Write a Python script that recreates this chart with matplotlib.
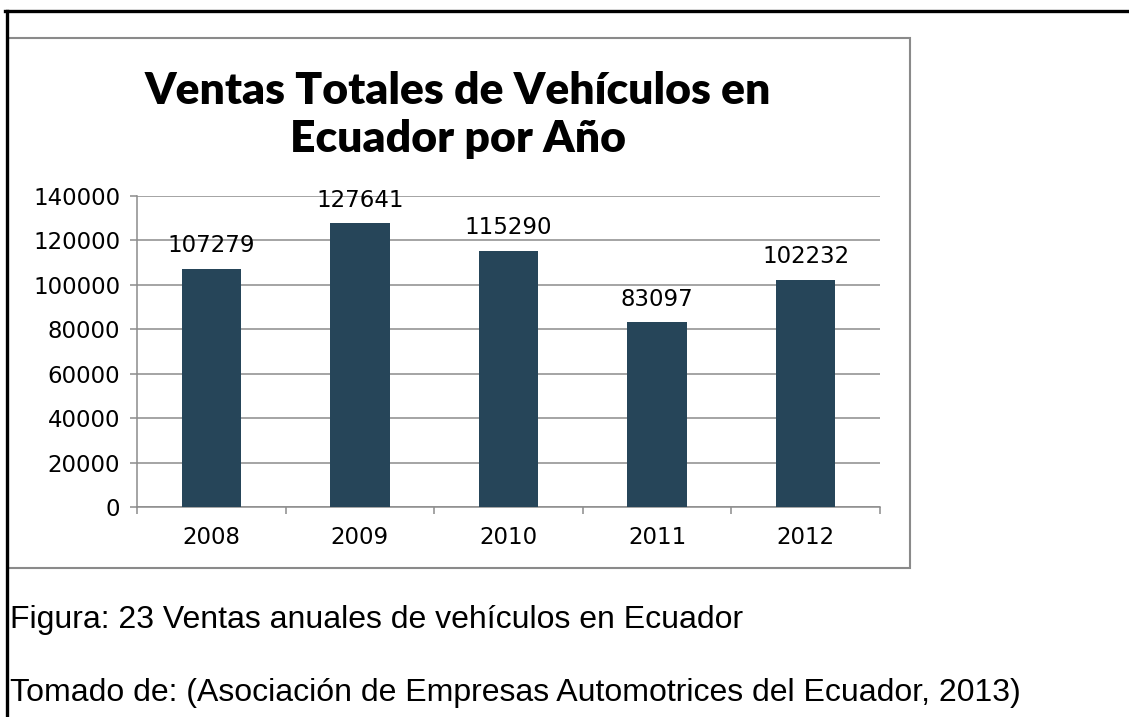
"""Ventas totales de vehiculos en Ecuador por anio (bar chart)."""
import matplotlib
matplotlib.use("Agg")
import matplotlib.pyplot as plt
from matplotlib.lines import Line2D
from matplotlib.patches import Rectangle

years = ["2008", "2009", "2010", "2011", "2012"]
sales = [107279, 127641, 115290, 83097, 102232]
yticks = [0, 20000, 40000, 60000, 80000, 100000, 120000, 140000]

W, H = 1129, 717
plt.rcParams["font.family"] = ["DejaVu Sans"]
fig = plt.figure(figsize=(W / 100, H / 100), dpi=100)
fig.patch.set_facecolor("white")

# page borders (black) and chart frame (grey)
fig.add_artist(Line2D([5 / W, 1], [1 - 10.5 / H] * 2, color="black", lw=2.4,
                      transform=fig.transFigure))
fig.add_artist(Line2D([6.5 / W] * 2, [0, 1 - 10.5 / H], color="black", lw=2.4,
                      transform=fig.transFigure))
fig.add_artist(Rectangle((8 / W, 1 - 568 / H), (910 - 8) / W, (568 - 38) / H,
                         transform=fig.transFigure, fill=False,
                         edgecolor="#8a8a8a", lw=1.5))

ax = fig.add_axes([137 / W, 1 - 507 / H, (880 - 137) / W, (507 - 196) / H])
x = list(range(len(years)))
bars = ax.bar(x, sales, width=0.4, color="#264559", zorder=3)
ax.set_xlim(-0.5, len(years) - 0.5)
ax.set_ylim(0, 140000)
ax.set_yticks(yticks)
ax.set_yticklabels([str(v) for v in yticks])
ax.set_xticks(x)
ax.set_xticklabels(years)
ax.set_xticks([i - 0.5 for i in range(len(years) + 1)], minor=True)
ax.yaxis.grid(True, color="#8c8c8c", lw=1.1, zorder=0)
ax.tick_params(axis="y", length=5, width=1.1, color="#8c8c8c", pad=7,
               labelsize=16.5)
ax.tick_params(axis="x", which="major", length=0, pad=14, labelsize=16.5)
ax.tick_params(axis="x", which="minor", length=5, width=1.1, color="#8c8c8c")
for s in ["top", "right"]:
    ax.spines[s].set_visible(False)
for s in ["left", "bottom"]:
    ax.spines[s].set_color("#8c8c8c")
    ax.spines[s].set_linewidth(1.1)

for b, v in zip(bars, sales):
    ax.annotate(str(v), (b.get_x() + b.get_width() / 2, v),
                xytext=(0, 12), textcoords="offset points",
                ha="center", va="baseline", fontsize=16.5, zorder=4)

fig.text(458 / W, 1 - 115 / H, "Ventas Totales de Vehículos en\nEcuador por Año",
         ha="center", va="center", fontsize=32, fontweight="heavy",
         family="Lato", linespacing=1.25)

fig.text(10 / W, 1 - 620 / H, "Figura: 23 Ventas anuales de vehículos en Ecuador",
         ha="left", va="center", fontsize=23, family="Liberation Sans")
fig.text(10 / W, 1 - 693 / H,
         "Tomado de: (Asociación de Empresas Automotrices del Ecuador, 2013)",
         ha="left", va="center", fontsize=23, family="Liberation Sans")

fig.savefig("out.png", dpi=100)
